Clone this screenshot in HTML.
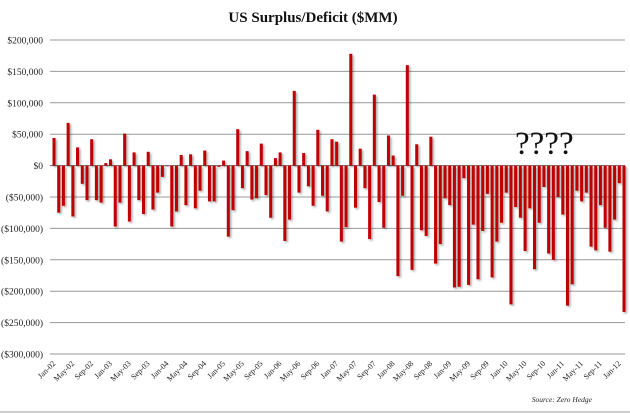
<!DOCTYPE html>
<html><head><meta charset="utf-8"><style>
html,body{margin:0;padding:0;background:#fff;width:630px;height:413px;overflow:hidden}
svg{display:block}
</style></head><body>
<svg id="chart" width="630" height="413" xmlns="http://www.w3.org/2000/svg" font-family="'Liberation Serif', serif">
<defs><filter id="sh" x="-50%" y="-10%" width="250%" height="130%"><feDropShadow dx="1.5" dy="1.5" stdDeviation="1" flood-color="#000" flood-opacity="0.35"/></filter></defs>
<text x="313" y="22" text-anchor="middle" font-size="15" font-weight="bold" fill="#111">US Surplus/Deficit ($MM)</text>
<g id="grid"></g><g id="bars" filter="url(#sh)"></g><g id="xlabels"></g>
<text x="515" y="154" font-size="33" fill="#111">????</text>
<text x="592" y="402" text-anchor="end" font-size="7.5" font-style="italic" fill="#222">Source: Zero Hedge</text>
<line x1="0" y1="412" x2="630" y2="412" stroke="#999" stroke-width="1"/>
</svg>
<script>
const yTicks=[200000,150000,100000,50000,0,-50000,-100000,-150000,-200000,-250000,-300000];
const values=[44,-75,-64,68,-81,29,-29,-55,42,-55,-59,4,
10,-97,-59,51,-89,21,-55,-77,22,-70,-43,-18,
-1,-97,-73,17,-63,18,-68,-40,24,-57,-57,-2,
8,-113,-71,58,-36,23,-54,-52,35,-47,-83,12,
21,-120,-86,119,-43,20,-33,-64,57,-48,-73,42,
38,-121,-98,178,-67,27,-36,-117,113,-58,-99,48,
16,-176,-48,160,-166,34,-103,-112,46,-156,-125,-52,
-63,-194,-193,-20,-190,-94,-181,-104,-45,-178,-121,-91,
-43,-221,-66,-83,-136,-68,-165,-91,-34,-140,-150,-50,
-78,-223,-189,-40,-57,-43,-129,-135,-63,-99,-137,-86,
-28,-233].map(v=>v*1000);
const months=["Jan","Feb","Mar","Apr","May","Jun","Jul","Aug","Sep","Oct","Nov","Dec"];
const categories=values.map((v,i)=>months[i%12]+"-"+String(2+Math.floor(i/12)).padStart(2,"0"));
const y0=40,y1=354,vmax=200000,vmin=-300000;
const ys=v=>y0+(vmax-v)/(vmax-vmin)*(y1-y0);
const x0=54,step=(624-54)/(values.length-1);
const xs=i=>x0+i*step;
const NS="http://www.w3.org/2000/svg";
const grid=document.getElementById('grid'),bars=document.getElementById('bars'),xl=document.getElementById('xlabels');
yTicks.forEach(t=>{
 const l=document.createElementNS(NS,'line');
 
 
 l.setAttribute('x1',50);l.setAttribute('x2',625);l.setAttribute('y1',ys(t));l.setAttribute('y2',ys(t));
 l.setAttribute('stroke',t===0?'#666':'#999');l.setAttribute('stroke-width',1);
 grid.appendChild(l);
 const tx=document.createElementNS(NS,'text');
 
 
 tx.setAttribute('x',43);tx.setAttribute('y',ys(t)+3.5);tx.setAttribute('text-anchor','end');tx.setAttribute('font-size','9.5');tx.setAttribute('fill','#222');
 const a=Math.abs(t).toLocaleString('en-US');
 tx.textContent=t<0?'($'+a+')':'$'+a;
 grid.appendChild(tx);
});
values.forEach((v,i)=>{
 const r=document.createElementNS(NS,'rect');
 
 
 const a=ys(Math.max(v,0)),b=ys(Math.min(v,0));
 r.setAttribute('x',xs(i)-1.5);r.setAttribute('width',3);r.setAttribute('y',a);r.setAttribute('height',Math.max(b-a,0.5));
 r.setAttribute('fill','#c00000');
 bars.appendChild(r);
 if(i%4===0){
  const t=document.createElementNS(NS,'text');
  
  
  const x=xs(i)+2,y=364;
  t.setAttribute('x',x);t.setAttribute('y',y);t.setAttribute('text-anchor','end');t.setAttribute('font-size','8');t.setAttribute('fill','#222');
  t.setAttribute('transform','rotate(-45 '+x+' '+y+')');
  t.textContent=categories[i];
  xl.appendChild(t);
 }
});
</script>
</body></html>
